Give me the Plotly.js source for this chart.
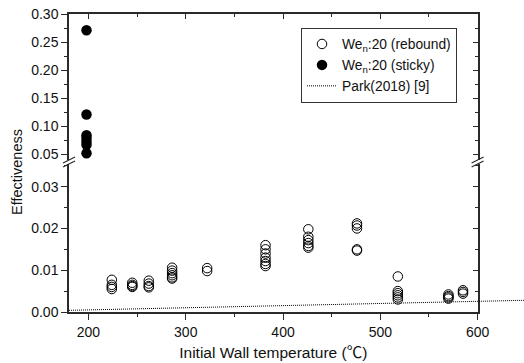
<!DOCTYPE html>
<html>
<head>
<meta charset="utf-8">
<script src="https://cdn.plot.ly/plotly-3.0.1.min.js"></script>
<style>html,body{margin:0;padding:0;background:#fff;}#chart{width:524px;height:363px;}</style>
</head>
<body>
<div id="chart"></div>
<script>
// ---- data ----
const reboundT = [
  224,224,224,224,
  245,245,245,245,
  262,262,262,262,
  286,286,286,286,286,286,
  322,322,
  382,382,382,382,382,382,382,
  426,426,426,426,426,426,
  476,476,476,476,476,
  518,518,518,518,518,518,
  570,570,570,570,
  585,585,585
];
const reboundE = [
  0.0077,0.0065,0.0060,0.0055,
  0.0070,0.0065,0.0062,0.0060,
  0.0075,0.0068,0.0062,0.0059,
  0.0106,0.0099,0.0093,0.0088,0.0083,0.0080,
  0.0105,0.0098,
  0.0160,0.0150,0.0140,0.0130,0.0122,0.0115,0.0110,
  0.0198,0.0180,0.0172,0.0165,0.0158,0.0154,
  0.0212,0.0207,0.0200,0.0150,0.0147,
  0.0085,0.0050,0.0045,0.0040,0.0035,0.0030,
  0.0042,0.0038,0.0035,0.0032,
  0.0052,0.0048,0.0044
];
const stickyT = [198,198,198,198,198,198,198];
const stickyE = [0.271,0.121,0.084,0.079,0.073,0.067,0.052];
const parkT = [180, 648];
const parkE = [0.0004, 0.0028];

const labels = {
  rebound: 'We<sub>n</sub>:20 (rebound)',
  sticky: 'We<sub>n</sub>:20 (sticky)',
  park: 'Park(2018) [9]',
  x: 'Initial Wall temperature (<span style="font-family:Noto Sans CJK KR">℃</span>)',
  y: 'Effectiveness'
};

// ---- geometry ----
const W = 524, H = 363;
const L = 69, R = 0, T = 14, B = 51;
const plotW = W - L - R, plotH = H - T - B;
const axRightPx = 477.6;
const xMin = 180, xMax = 600;
const xDomEnd = (axRightPx - L) / plotW;
const pxPerDeg = (axRightPx - L) / (xMax - xMin);
const x3Max = xMin + plotW / pxPerDeg;
const breakPx = 162;
const ySplit = (H - B - breakPx) / plotH;
const lowMax = 0.0359, upMin = 0.0363, upMax = 0.30005;

const px = v => (v - L) / plotW;
const py = v => (H - B - v) / plotH;

const lineCol = '#2a2a2a';
const fam = 'Liberation Sans, Arial, sans-serif';

const empty = [];
const traces = [
  {x: reboundT, y: reboundE, xaxis: 'x', yaxis: 'y', mode: 'markers', name: labels.rebound,
   marker: {symbol: 'circle-open', size: 9.5, color: '#000', line: {width: 1, color: '#000'}}},
  {x: stickyT, y: stickyE, xaxis: 'x', yaxis: 'y2', mode: 'markers', name: labels.sticky,
   marker: {symbol: 'circle', size: 10.5, color: '#000'}},
  {x: parkT, y: parkE, xaxis: 'x3', yaxis: 'y', mode: 'lines', name: labels.park,
   line: {dash: '1px,1px', width: 1, color: '#000'}},
  {x: empty, y: empty, xaxis: 'x2', yaxis: 'y2', mode: 'markers', showlegend: false, hoverinfo: 'skip'},
  {x: empty, y: empty, xaxis: 'x', yaxis: 'y3', mode: 'markers', showlegend: false, hoverinfo: 'skip'},
  {x: empty, y: empty, xaxis: 'x', yaxis: 'y4', mode: 'markers', showlegend: false, hoverinfo: 'skip'}
];

function ax(extra) {
  return Object.assign({showgrid: false, zeroline: false, showline: true, linecolor: lineCol, linewidth: 1.5,
    tickcolor: lineCol, tickwidth: 1.2, tickfont: {family: fam, size: 14, color: '#111'}}, extra);
}
function minor(dt, side) {
  return {dtick: dt, ticks: side, ticklen: 3, tickcolor: lineCol, tickwidth: 1.2};
}

const layout = {
  width: W, height: H,
  margin: {l: L, r: R, t: T, b: B, pad: 0},
  paper_bgcolor: '#fff', plot_bgcolor: 'rgba(0,0,0,0)',
  font: {family: fam, size: 14, color: '#111'},
  showlegend: true,
  legend: {x: px(301), y: py(27.5), xanchor: 'left', yanchor: 'top',
    bordercolor: '#333', borderwidth: 1, bgcolor: '#fff',
    font: {family: fam, size: 13.8, color: '#111'}, tracegroupgap: 0},
  xaxis: ax({domain: [0, xDomEnd], range: [xMin, xMax], anchor: 'y',
    ticks: 'outside', ticklen: 6, dtick: 100, tick0: 0, minor: minor(50, 'outside'),
    title: {text: labels.x, font: {family: fam, size: 15.5, color: '#111'}, standoff: 5}}),
  xaxis2: ax({overlaying: 'x', side: 'top', anchor: 'y2', range: [xMin, xMax],
    ticks: 'inside', ticklen: 5, dtick: 100, tick0: 0, showticklabels: false, minor: minor(50, 'inside')}),
  xaxis3: {domain: [0, 1], range: [xMin, x3Max], anchor: 'y', visible: false, fixedrange: true},
  yaxis: ax({domain: [0, ySplit], range: [0, lowMax], anchor: 'x',
    ticks: 'outside', ticklen: 6, dtick: 0.01, tick0: 0, tickformat: '.2f', minor: minor(0.005, 'outside')}),
  yaxis2: ax({domain: [ySplit, 1], range: [upMin, upMax], anchor: 'x',
    ticks: 'outside', ticklen: 6, dtick: 0.05, tick0: 0, tickformat: '.2f', minor: minor(0.025, 'outside')}),
  yaxis3: ax({overlaying: 'y', side: 'right', anchor: 'x', range: [0, lowMax],
    ticks: 'inside', ticklen: 5, dtick: 0.01, tick0: 0, showticklabels: false, minor: minor(0.005, 'inside')}),
  yaxis4: ax({overlaying: 'y2', side: 'right', anchor: 'x', range: [upMin, upMax],
    ticks: 'inside', ticklen: 5, dtick: 0.05, tick0: 0, showticklabels: false, minor: minor(0.025, 'inside')}),
  annotations: [
    {text: labels.y, xref: 'paper', yref: 'paper', x: px(17), y: py(172), textangle: -90,
     showarrow: false, xanchor: 'center', yanchor: 'middle', font: {family: fam, size: 14.5, color: '#111'}}
  ],
  shapes: [].concat(...[L, axRightPx].map(cx => [
    {type: 'rect', xref: 'paper', yref: 'paper', x0: px(cx - 2.5), x1: px(cx + 2.5), y0: py(breakPx + 2), y1: py(breakPx - 2),
     fillcolor: '#fff', line: {width: 0}},
    {type: 'line', xref: 'paper', yref: 'paper', x0: px(cx - 6), x1: px(cx + 6), y0: py(breakPx + 5), y1: py(breakPx - 1),
     line: {color: lineCol, width: 1.2}},
    {type: 'line', xref: 'paper', yref: 'paper', x0: px(cx - 6), x1: px(cx + 6), y0: py(breakPx + 1), y1: py(breakPx - 5),
     line: {color: lineCol, width: 1.2}}
  ]))
};

Plotly.newPlot('chart', traces, layout, {displayModeBar: false});
</script>
</body>
</html>
